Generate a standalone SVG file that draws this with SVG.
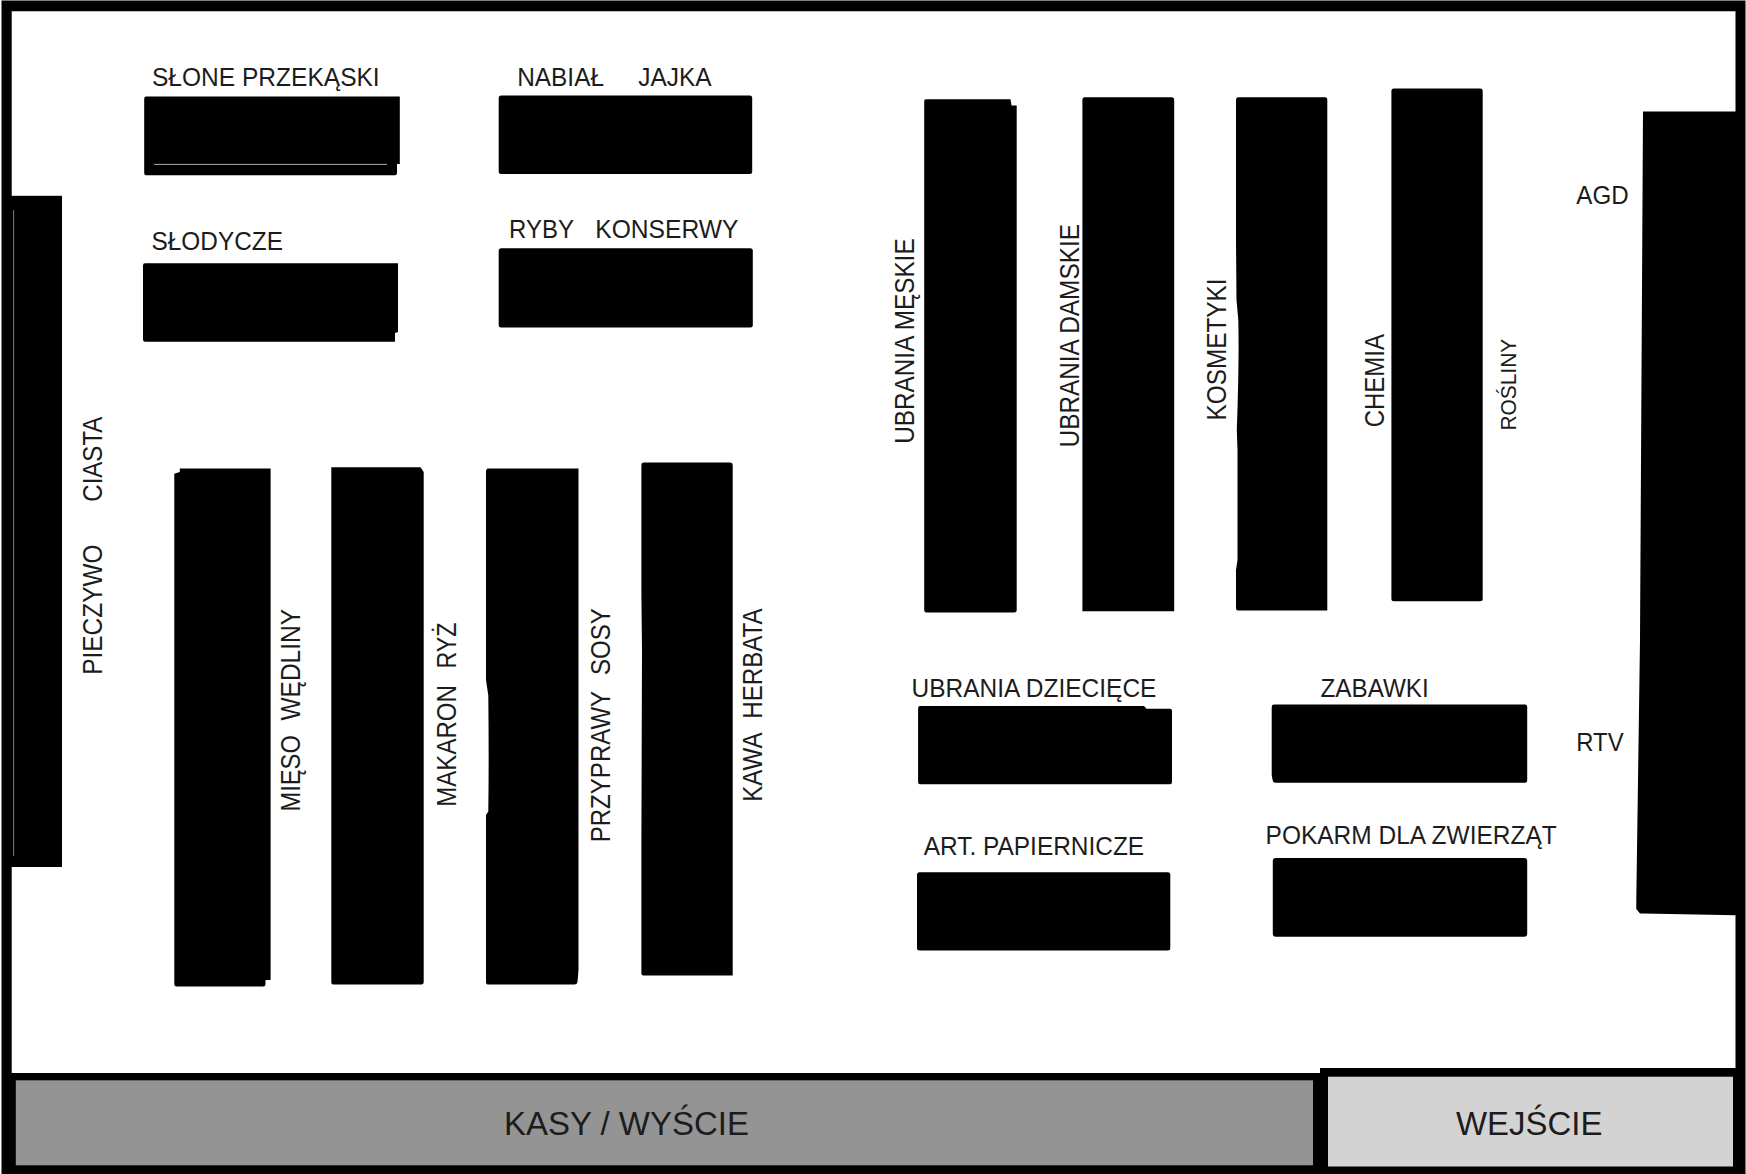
<svg xmlns="http://www.w3.org/2000/svg" width="1746" height="1174" viewBox="0 0 1746 1174">
<style>
.s{fill:#000}
.t{font-family:"Liberation Sans",Arial,sans-serif;fill:#1c1c1c;font-size:26px}
.v{font-size:27px}
.b{font-size:33px}
</style>
<rect width="1746" height="1174" fill="#fff"/>
<g id="walls">
<path class="s" fill-rule="evenodd" d="M1.500 0.500H1745.500V1174H1.500ZM11.700 11.200V1073H1320V1068H1735.500V11.200Z"/>
</g>
<g id="kasy">
<rect x="15.800" y="1080.300" width="1297.200" height="85" fill="#949494"/>
<text class="t b" x="503.900" y="1134.700" textLength="245" lengthAdjust="spacingAndGlyphs">KASY / WYŚCIE</text>
</g>
<g id="wejscie">
<rect x="1328" y="1076.700" width="405" height="89.800" fill="#d3d3d3"/>
<text class="t b" x="1456" y="1134.700" textLength="146.400" lengthAdjust="spacingAndGlyphs">WEJŚCIE</text>
</g>
<g id="slone-przekaski">
<path class="s" d="M146 96.600H399.800V164H397V173Q397 175.200 395 175.200H146Q144.200 175.200 144.200 173V99Q144.200 96.600 146 96.600Z"/>
<rect x="154" y="163.900" width="233" height="1" fill="#a8a8a8"/>
<text class="t" x="152" y="85.500" textLength="227.700" lengthAdjust="spacingAndGlyphs">SŁONE PRZEKĄSKI</text>
</g>
<g id="nabial-jajka">
<rect class="s" x="498.700" y="95.500" width="253.500" height="78.600" rx="2.500"/>
<text class="t" y="85.500"><tspan x="517.200" textLength="86.800" lengthAdjust="spacingAndGlyphs">NABIAŁ</tspan> <tspan x="638.300" textLength="73.300" lengthAdjust="spacingAndGlyphs">JAJKA</tspan></text>
</g>
<g id="slodycze">
<path class="s" d="M145 263.200H398V332L395 333V341.800H145Q143 341.800 143 339.500V265.500Q143 263.200 145 263.200Z"/>
<text class="t" x="151.500" y="249.700" textLength="131.400" lengthAdjust="spacingAndGlyphs">SŁODYCZE</text>
</g>
<g id="ryby-konserwy">
<rect class="s" x="498.700" y="248.200" width="254.100" height="79.400" rx="2.500"/>
<text class="t" y="237.700"><tspan x="509" textLength="64.500" lengthAdjust="spacingAndGlyphs">RYBY</tspan> <tspan x="595.300" textLength="143" lengthAdjust="spacingAndGlyphs">KONSERWY</tspan></text>
</g>
<g id="pieczywo-ciasta">
<rect class="s" x="11" y="195.800" width="51" height="671.200"/>
<rect x="13.200" y="210" width="0.900" height="646" fill="#8a8a8a"/>
<text class="t v" transform="translate(102 674.800) rotate(-90)" textLength="130.300" lengthAdjust="spacingAndGlyphs">PIECZYWO</text>
<text class="t v" transform="translate(102 501.700) rotate(-90)" textLength="85" lengthAdjust="spacingAndGlyphs">CIASTA</text>
</g>
<g id="mieso-wedliny">
<path class="s" d="M179.800 468.400H270.600V980H265.500V984Q265.500 986.500 263 986.500H177Q174.300 986.500 174.300 984V474Q174.300 473.600 176.500 473L179.800 472Z"/>
<text class="t v" transform="translate(299.800 811.600) rotate(-90)"><tspan x="0" textLength="76.500" lengthAdjust="spacingAndGlyphs">MIĘSO</tspan> <tspan x="91" textLength="111.700" lengthAdjust="spacingAndGlyphs">WĘDLINY</tspan></text>
</g>
<g id="makaron-ryz">
<path class="s" d="M331.300 467.200H420.500L423.700 472V982Q423.700 984.600 421.500 984.600H334Q331.300 984.600 331.300 982Z"/>
<text class="t v" transform="translate(456 806.800) rotate(-90)"><tspan x="0" textLength="121.800" lengthAdjust="spacingAndGlyphs">MAKARON</tspan> <tspan x="138.200" textLength="46" lengthAdjust="spacingAndGlyphs">RYŻ</tspan></text>
</g>
<g id="przyprawy-sosy">
<path class="s" d="M488 468.400H578.500V970L577.500 982Q577 984.600 574.500 984.600H488.500Q486 984.600 486 982V815L488.300 811.600Q489 755 488.300 695.600L486 680V472Q486 468.400 488 468.400Z"/>
<text class="t v" transform="translate(610 842.300) rotate(-90)"><tspan x="0" textLength="151" lengthAdjust="spacingAndGlyphs">PRZYPRAWY</tspan> <tspan x="167.300" textLength="66.800" lengthAdjust="spacingAndGlyphs">SOSY</tspan></text>
</g>
<g id="kawa-herbata">
<path class="s" d="M643.500 462.400H730.500Q732.700 462.400 732.700 465V975.600H644Q641.400 975.600 641.400 973V840L642 650L641.400 595V465Q641.400 462.400 643.500 462.400Z"/>
<text class="t v" transform="translate(762.300 801.800) rotate(-90)"><tspan x="0" textLength="68" lengthAdjust="spacingAndGlyphs">KAWA</tspan> <tspan x="83" textLength="110.500" lengthAdjust="spacingAndGlyphs">HERBATA</tspan></text>
</g>
<g id="ubrania-meskie">
<path class="s" d="M926 99.200H1010.500L1011.500 105.600H1016.700V610Q1016.700 612.500 1014 612.500H926.500Q924.200 612.500 924.200 610V101Q924.200 99.200 926 99.200Z"/>
<text class="t v" transform="translate(913.800 443.700) rotate(-90)" textLength="205.300" lengthAdjust="spacingAndGlyphs">UBRANIA MĘSKIE</text>
</g>
<g id="ubrania-damskie">
<path class="s" d="M1084.500 97.300H1171.500Q1174.200 97.300 1174.200 100V611.300H1082.400V100Q1082.400 97.300 1084.500 97.300Z"/>
<text class="t v" transform="translate(1079 447.400) rotate(-90)" textLength="223.300" lengthAdjust="spacingAndGlyphs">UBRANIA DAMSKIE</text>
</g>
<g id="kosmetyki">
<path class="s" d="M1238 97.300H1325Q1327.300 97.300 1327.300 100V610.600H1238Q1236 610.600 1236 608V570L1237.500 560L1237.500 450L1236.800 430Q1239.300 360 1238.300 320L1236.500 300L1236 240V100Q1236 97.300 1238 97.300Z"/>
<text class="t v" transform="translate(1226 420.400) rotate(-90)" textLength="142" lengthAdjust="spacingAndGlyphs">KOSMETYKI</text>
</g>
<g id="chemia">
<rect class="s" x="1391.400" y="88.400" width="91.300" height="512.800" rx="2.500"/>
<text class="t v" transform="translate(1383.500 427.300) rotate(-90)" textLength="93.300" lengthAdjust="spacingAndGlyphs">CHEMIA</text>
</g>
<g id="rosliny">
<text class="t" transform="translate(1516.200 430.600) rotate(-90)" style="font-size:22.500px" textLength="91.800" lengthAdjust="spacingAndGlyphs">ROŚLINY</text>
</g>
<g id="agd-rtv">
<path class="s" d="M1643 111.600H1736V915.300L1643 913.500H1640L1636.300 909V900L1640 640Z"/>
<text class="t" x="1576.300" y="204" textLength="52.300" lengthAdjust="spacingAndGlyphs">AGD</text>
<text class="t" x="1576.300" y="751" textLength="47.300" lengthAdjust="spacingAndGlyphs">RTV</text>
</g>
<g id="ubrania-dzieciece">
<path class="s" d="M920 706H1144L1146.500 708.800H1170Q1172 708.800 1172 711V782Q1172 784.300 1170 784.300H920Q918.100 784.300 918.100 782V708Q918.100 706 920 706Z"/>
<text class="t" x="911.500" y="696.700" textLength="244.900" lengthAdjust="spacingAndGlyphs">UBRANIA DZIECIĘCE</text>
</g>
<g id="zabawki">
<path class="s" d="M1274 704.600H1525Q1527.200 704.600 1527.200 707V780.500Q1527.200 782.800 1525 782.800H1275Q1273 782.800 1272.600 780L1271.700 775V707Q1271.700 704.600 1274 704.600Z"/>
<text class="t" x="1320.500" y="696.700" textLength="108.200" lengthAdjust="spacingAndGlyphs">ZABAWKI</text>
</g>
<g id="art-papiernicze">
<rect class="s" x="917" y="872.300" width="253.300" height="78.200" rx="2.500"/>
<text class="t" x="923.700" y="855" textLength="220.500" lengthAdjust="spacingAndGlyphs">ART. PAPIERNICZE</text>
</g>
<g id="pokarm">
<rect class="s" x="1272.800" y="858" width="254.400" height="78.700" rx="3"/>
<text class="t" x="1265.600" y="843.800" textLength="291.100" lengthAdjust="spacingAndGlyphs">POKARM DLA ZWIERZĄT</text>
</g>
<g id="connectors"/>
</svg>
